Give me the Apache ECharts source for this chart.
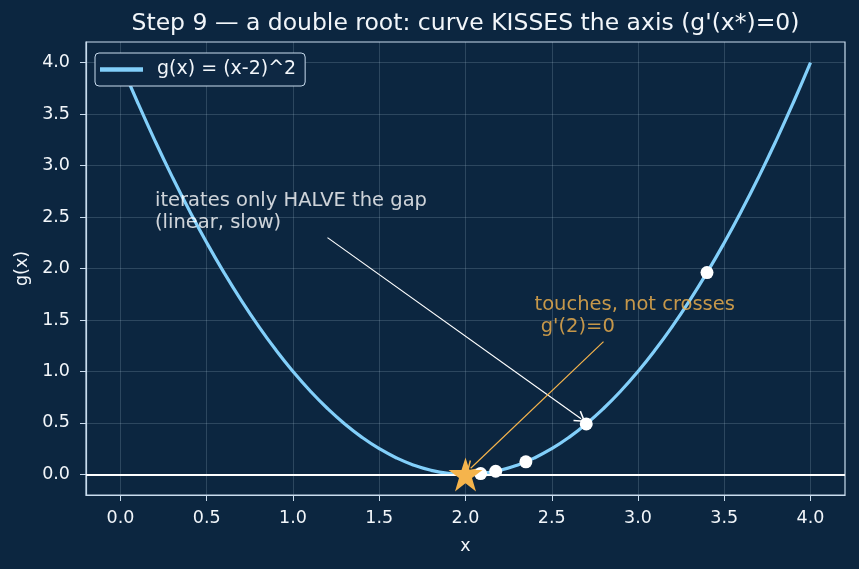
<!DOCTYPE html>
<html>
<head>
<meta charset="utf-8">
<script src="https://cdn.jsdelivr.net/npm/echarts@6/dist/echarts.min.js"></script>
<style>
  html, body { margin: 0; padding: 0; background: #0c2640; }
  #chart { width: 859px; height: 569px; }
</style>
</head>
<body>
<div id="chart"></div>
<script>
// curve samples of g(x) = (x-2)^2
const curveX = [0.0, 0.1, 0.2, 0.3, 0.4, 0.5, 0.6, 0.7, 0.8, 0.9, 1.0, 1.1, 1.2, 1.3, 1.4, 1.5, 1.6, 1.7, 1.8, 1.9, 2.0,
  2.1, 2.2, 2.3, 2.4, 2.5, 2.6, 2.7, 2.8, 2.9, 3.0, 3.1, 3.2, 3.3, 3.4, 3.5, 3.6, 3.7, 3.8, 3.9, 4.0];
const curveY = [4.0, 3.61, 3.24, 2.89, 2.56, 2.25, 1.96, 1.69, 1.44, 1.21, 1.0, 0.81, 0.64, 0.49, 0.36, 0.25, 0.16, 0.09, 0.04, 0.01, 0.0,
  0.01, 0.04, 0.09, 0.16, 0.25, 0.36, 0.49, 0.64, 0.81, 1.0, 1.21, 1.44, 1.69, 1.96, 2.25, 2.56, 2.89, 3.24, 3.61, 4.0];
// Newton iterates
const iterX = [3.4, 2.7, 2.35, 2.175, 2.0875];
const iterY = [1.96, 0.49, 0.1225, 0.0306, 0.0077];
const root = [2.0, 0.0];
const xTicks = [0.0, 0.5, 1.0, 1.5, 2.0, 2.5, 3.0, 3.5, 4.0];
const yTicks = [0.0, 0.5, 1.0, 1.5, 2.0, 2.5, 3.0, 3.5, 4.0];

const chart = echarts.init(document.getElementById('chart'));
const fg = '#f2f6fa';
const axisCol = '#c9dcee';
const gridCol = 'rgba(200,220,240,0.18)';
const orange = '#f5b44c';
const font = 'DejaVu Sans';
const star = 'path://M50,0 L61.8,35.4 L100,35.4 L69.1,57.3 L80.9,95.1 L50,72.4 L19.1,95.1 L30.9,57.3 L0,35.4 L38.2,35.4 Z';
const chevron = 'path://M50,0 L100,80 L90,86 L50,22 L10,86 L0,80 Z';

chart.setOption({
  backgroundColor: '#0c2640',
  animation: false,
  textStyle: { fontFamily: font },
  graphic: [{
    type: 'text',
    x: 465.5, y: 24,
    style: {
      text: "Step 9 — a double root: curve KISSES the axis (g'(x*)=0)",
      fill: fg, fontSize: 23.5, fontFamily: font,
      align: 'center', verticalAlign: 'middle'
    }
  }],
  legend: {
    left: 95, top: 53,
    padding: [7, 9, 7, 5],
    itemWidth: 43, itemHeight: 4.5, itemGap: 10,
    backgroundColor: '#0e2843',
    borderColor: '#c9dcee', borderWidth: 1, borderRadius: 4,
    textStyle: { color: fg, fontSize: 19, fontFamily: font, padding: [0, 0, 0, 9] },
    data: [{ name: 'g(x) = (x-2)^2', icon: 'rect' }]
  },
  grid: { left: 86, right: 14, top: 42, bottom: 74, show: true, borderColor: axisCol, borderWidth: 1.2, backgroundColor: 'transparent' },
  xAxis: {
    type: 'value', min: -0.2, max: 4.2,
    name: 'x', nameLocation: 'middle', nameGap: 42,
    nameTextStyle: { color: fg, fontSize: 17.5 },
    axisLine: { onZero: false, lineStyle: { color: axisCol, width: 1.2 } },
    axisTick: { show: true, customValues: xTicks, length: 6, lineStyle: { color: axisCol } },
    axisLabel: { color: fg, fontSize: 17.5, margin: 14, customValues: xTicks, formatter: v => v.toFixed(1) },
    splitLine: { show: true, lineStyle: { color: gridCol } }
  },
  yAxis: {
    type: 'value', min: -0.2, max: 4.2,
    name: 'g(x)', nameLocation: 'middle', nameGap: 55, nameRotate: 90,
    nameTextStyle: { color: fg, fontSize: 17.5 },
    axisLine: { show: true, onZero: false, lineStyle: { color: axisCol, width: 1.2 } },
    axisTick: { show: true, customValues: yTicks, length: 6, lineStyle: { color: axisCol } },
    axisLabel: { color: fg, fontSize: 17.5, margin: 16, customValues: yTicks, formatter: v => v.toFixed(1) },
    splitLine: { show: true, lineStyle: { color: gridCol } }
  },
  series: [
    {
      name: 'g(x) = (x-2)^2',
      type: 'line',
      data: curveX.map((x, i) => [x, curveY[i]]),
      showSymbol: false,
      smooth: true,
      color: '#82cffa',
      lineStyle: { width: 3.2, color: '#82cffa' },
      z: 3,
      markLine: {
        silent: true,
        symbol: ['none', 'none'],
        label: { show: false },
        lineStyle: { color: '#ffffff', width: 1.8, type: 'solid' },
        data: [{ yAxis: 0 }]
      }
    },
    {
      name: 'iterates',
      type: 'scatter',
      data: iterX.map((x, i) => [x, iterY[i]]),
      symbolSize: 13,
      itemStyle: { color: '#ffffff', opacity: 1 },
      z: 5
    },
    {
      name: 'root',
      type: 'scatter',
      data: [root],
      symbol: star,
      symbolSize: 34,
      itemStyle: { color: orange, opacity: 1 },
      z: 6
    },
    {
      name: 'notes',
      type: 'scatter',
      symbolSize: 0,
      silent: true,
      data: [
        { value: [0.2, 2.4], label: { show: true, position: 'insideBottomLeft', distance: 0, offset: [0, 7], align: 'left', verticalAlign: 'bottom',
          formatter: 'iterates only HALVE the gap\n(linear, slow)', color: '#ffffff', fontSize: 19.5, lineHeight: 22 } },
        { value: [2.4, 1.4], label: { show: true, position: 'insideBottomLeft', distance: 0, offset: [0, 8], align: 'left', verticalAlign: 'bottom',
          formatter: "touches, not crosses\n g'(2)=0", color: orange, fontSize: 19.5, lineHeight: 22 } }
      ],
      markLine: {
        silent: true,
        symbol: ['none', chevron],
        symbolSize: [13, 11],
        label: { show: false },
        data: [
          [{ coord: [1.2, 2.3], lineStyle: { color: '#ffffff', width: 1.2, type: 'solid' }, itemStyle: { color: '#ffffff' } }, { coord: [2.67, 0.54] }],
          [{ coord: [2.8, 1.29], lineStyle: { color: orange, width: 1.2, type: 'solid' }, itemStyle: { color: orange } }, { coord: [2.03, 0.06] }]
        ]
      },
      z: 7
    }
  ]
});
</script>
</body>
</html>
